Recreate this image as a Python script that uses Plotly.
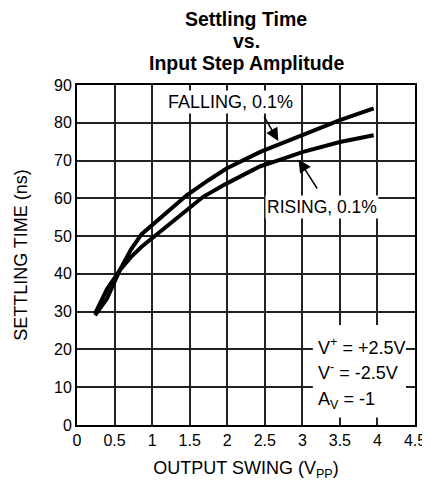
import plotly.graph_objects as go

# Data
fall_x = [0.24, 0.40, 0.57, 0.72, 0.86, 1.20, 1.46, 1.75, 1.99, 2.44, 3.01, 3.50, 3.95]
fall_y = [29.0, 33.5, 41.0, 46.5, 50.5, 56.5, 60.8, 64.8, 67.9, 72.3, 76.7, 80.7, 83.8]

rise_x = [0.24, 0.40, 0.57, 0.72, 0.86, 1.06, 1.30, 1.68, 1.99, 2.44, 2.60, 3.01, 3.50, 3.95]
rise_y = [29.5, 36.0, 41.0, 44.5, 47.2, 50.5, 54.3, 60.4, 63.9, 68.5, 69.5, 72.3, 74.9, 76.7]

x_ticks = [0, 0.5, 1, 1.5, 2, 2.5, 3, 3.5, 4, 4.5]
y_ticks = [0, 10, 20, 30, 40, 50, 60, 70, 80, 90]

title_lines = ["Settling Time", "vs.", "Input Step Amplitude"]

FONT = "Liberation Sans, Arial, sans-serif"

fig = go.Figure()
fig.add_trace(go.Scatter(x=fall_x, y=fall_y, mode="lines",
                         line=dict(color="black", width=4), name="FALLING, 0.1%"))
fig.add_trace(go.Scatter(x=rise_x, y=rise_y, mode="lines",
                         line=dict(color="black", width=4), name="RISING, 0.1%"))

# white box behind the conditions text
fig.add_shape(type="rect", xref="x", yref="y", x0=3.14, x1=4.38, y0=2, y1=26.5,
              fillcolor="white", line=dict(width=0), layer="between")

ann = []
# title, one line per annotation for tight line spacing
for txt, shift in zip(title_lines, [66, 44, 22]):
    ann.append(dict(x=0.5, y=1, xref="paper", yref="paper", xanchor="center",
                    yanchor="middle", yshift=shift, showarrow=False, borderpad=0,
                    text="<b>" + txt + "</b>",
                    font=dict(size=19.5, family=FONT, color="black")))
ann.append(dict(x=2.04, y=85.4, xref="x", yref="y", text="FALLING, 0.1%", showarrow=False,
                bgcolor="white", font=dict(size=18, color="black")))
ann.append(dict(x=3.26, y=57.8, xref="x", yref="y", text="RISING, 0.1%", showarrow=False,
                bgcolor="white", font=dict(size=17.5, color="black")))
# arrows
ann.append(dict(x=2.68, y=75.2, ax=2.48, ay=82.0, xref="x", yref="y", axref="x", ayref="y",
                text="", showarrow=True, arrowhead=2, arrowsize=1.7, arrowwidth=1.5,
                arrowcolor="black"))
ann.append(dict(x=2.95, y=70.3, ax=3.21, ay=62.2, xref="x", yref="y", axref="x", ayref="y",
                text="", showarrow=True, arrowhead=2, arrowsize=1.7, arrowwidth=1.5,
                arrowcolor="black"))
# conditions
for yv, txt in [(20.9, "V<sup>+</sup> = +2.5V"), (14.1, "V<sup>-</sup> = -2.5V"),
                (6.6, "A<sub>V</sub> = -1")]:
    ann.append(dict(x=3.18, y=yv, xref="x", yref="y", text=txt, showarrow=False,
                    xanchor="left", yanchor="middle", font=dict(size=18, color="black")))

# page body has an 8px margin, so the figure is 8px smaller and margins compensate
fig.update_layout(
    width=422, height=473,
    margin=dict(l=69, r=15, t=77, b=56, autoexpand=False),
    paper_bgcolor="white", plot_bgcolor="white",
    showlegend=False,
    font=dict(family=FONT, color="black", size=16),
    annotations=ann,
    xaxis=dict(range=[0, 4.5], tickvals=x_ticks, ticktext=[f"{v:g}" for v in x_ticks],
               showgrid=True, gridcolor="#222222", gridwidth=1.5,
               showline=True, linecolor="black", linewidth=2, mirror=True,
               zeroline=False, ticks="", ticklen=0, automargin=False,
               tickfont=dict(size=16, family=FONT, color="black"),
               title=dict(text="OUTPUT SWING (V<sub>PP</sub>)", standoff=29,
                          font=dict(size=18, family=FONT, color="black"))),
    yaxis=dict(range=[0, 90], tickvals=y_ticks, ticktext=[str(v) for v in y_ticks],
               showgrid=True, gridcolor="#222222", gridwidth=1.5,
               showline=True, linecolor="black", linewidth=2, mirror=True,
               zeroline=False, ticks="", ticklen=0, automargin=False,
               tickfont=dict(size=16, family=FONT, color="black"),
               title=dict(text="SETTLING TIME (ns)", standoff=22,
                          font=dict(size=18, family=FONT, color="black"))),
)

fig.write_html("out.html")
